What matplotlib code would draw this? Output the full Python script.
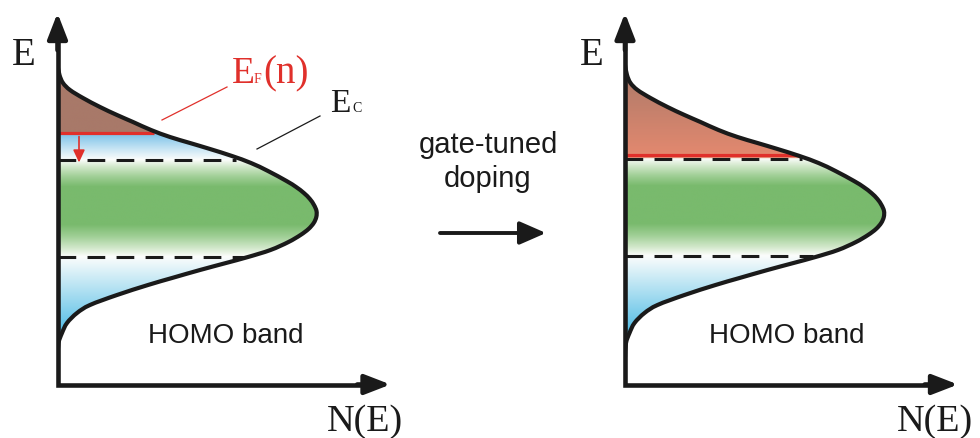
import numpy as np
import matplotlib
matplotlib.use("Agg")
import matplotlib.pyplot as plt
from matplotlib.patches import PathPatch
from matplotlib.path import Path

# ---------------- data (arbitrary units: E upward, N(E) rightward) ----------------
dos_E = [319.5, 309.5, 301.5, 294.5, 286.5, 277.5, 269.5, 262.5, 254.5, 247.5,
         241.5, 235.5, 228.5, 221.5, 213.5, 203.5, 197.5, 191.5, 185.5, 179.5,
         173.5, 167.5, 161.5, 155.5, 149.5, 142.5, 134.5, 127.5, 121.5, 114.5,
         106.5, 99.5, 89.5, 79.5, 71.5, 61.5, 51.5, 41.5, 27.5]
dos_N = [0, 2, 5.5, 12.5, 25.5, 42.5, 59.5, 75.5, 93.5, 112.5,
         132.5, 152.5, 174.5, 193.5, 210.5, 229, 238.6, 246.4, 252.4, 256.5,
         259, 258.8, 256.2, 251, 243, 231, 213, 190.5, 168.5, 142.5,
         114.5, 90.5, 59.5, 32.5, 19.5, 9.5, 4.5, 1, 0]

# levels
left_EF, left_EF_end = 251.5, 96
right_EF, right_EF_end = 229.5, 174
left_dash_E = [225, 128]
left_dash_end = [178, 188]
right_dash_E = [226, 129]
right_dash_end = [177, 188]
arrow_N, arrow_E0, arrow_E1 = 21.5, 248, 222   # red shift arrow (left panel)

# gradient colour stops (E, rgb)
blue = (72, 185, 228)
white = (252, 253, 252)
green = (121, 186, 109)
lblue = (122, 193, 232)
brown = (168, 121, 105)
salmon = (229, 137, 111)
left_stops_E = [0, 48, 128, 136, 148, 160, 198, 208, 218, 225, 251.4, 251.6, 400]
left_stops_C = [blue, blue, white, (212, 233, 205), (160, 207, 150), green, green,
                (160, 207, 150), (210, 232, 203), white, lblue, brown, brown]
right_stops_E = [0, 48, 129, 137, 149, 161, 199, 209, 219, 226.5, 226.6, 320, 400]
right_stops_C = [blue, blue, white, (212, 233, 205), (160, 207, 150), green, green,
                 (160, 207, 150), (210, 232, 203), white, salmon, brown, brown]

XMAX, YMAX = 333, 371.5
W, H = 980, 438
INK = "#1a1a1a"
RED = "#e0302b"

fig = plt.figure(figsize=(W / 100, H / 100), dpi=100)


def smooth_path(xs, ys, close=False):
    """Smooth Bezier path through the listed points (Catmull-Rom handles)."""
    P = np.column_stack([xs, ys]).astype(float)
    Pe = np.vstack([P[0], P, P[-1]])
    verts = [P[0]]
    codes = [Path.MOVETO]
    for i in range(len(P) - 1):
        p0, p1, p2, p3 = Pe[i], Pe[i + 1], Pe[i + 2], Pe[i + 3]
        verts += [p1 + (p2 - p0) / 6.0, p2 - (p3 - p1) / 6.0, p2]
        codes += [Path.CURVE4] * 3
    if close:
        verts.append(P[0])
        codes.append(Path.CLOSEPOLY)
    return Path(np.array(verts), codes)


def panel(x0px, stopsE, stopsC, EF, EF_end, dashE, dash_end, shift_arrow):
    ax = fig.add_axes([x0px / W, (H - 384.5) / H, XMAX / W, YMAX / H])
    ax.set_xlim(0, XMAX)
    ax.set_ylim(0, YMAX)
    ax.axis("off")
    ax.patch.set_alpha(0)

    clip = PathPatch(smooth_path(dos_N, dos_E, close=True), facecolor="none",
                     edgecolor="none")
    ax.add_patch(clip)
    Ey = np.linspace(min(dos_E), max(dos_E), 800)
    sc = np.array(stopsC, dtype=float) / 255.0
    img = np.stack([np.interp(Ey, stopsE, sc[:, k]) for k in range(3)], axis=-1)
    img = img[:, None, :].repeat(2, axis=1)
    im = ax.imshow(img, extent=[0, max(dos_N) + 5, min(dos_E), max(dos_E)],
                   origin="lower", aspect="auto", interpolation="bilinear", zorder=1)
    im.set_clip_path(clip)

    for e, xe in zip(dashE, dash_end):
        ax.plot([0, xe], [e, e], color=INK, lw=2.2, dashes=(5.8, 3.7),
                dash_capstyle="butt", zorder=3)
    ax.plot([0, EF_end], [EF, EF], color=RED, lw=2.3, solid_capstyle="butt", zorder=4)
    ax.add_patch(PathPatch(smooth_path(dos_N, dos_E), facecolor="none",
                           edgecolor=INK, lw=3.0, capstyle="round",
                           joinstyle="round", zorder=5))

    if shift_arrow:
        ax.annotate("", xy=(arrow_N, arrow_E1), xytext=(arrow_N, arrow_E0),
                    arrowprops=dict(arrowstyle="-|>,head_length=0.75,head_width=0.35",
                                    color=RED, lw=1.2, mutation_scale=10,
                                    shrinkA=0, shrinkB=0), zorder=6)

    # axes (L shape + arrow heads)
    ax.plot([0, 0, 0.95], [0.95, 0, 0], transform=ax.transAxes, color=INK, lw=3.3,
            solid_joinstyle="miter", solid_capstyle="butt", clip_on=False, zorder=7)
    for xy, xyt in (((0, 1.0), (0, 0.9)), ((1.0, 0), (0.9, 0))):
        ax.annotate("", xy=xy, xytext=xyt, xycoords="axes fraction",
                    textcoords="axes fraction",
                    arrowprops=dict(arrowstyle="-|>,head_length=1.55,head_width=0.6",
                                    color=INK, lw=3.3, mutation_scale=10,
                                    shrinkA=0, shrinkB=0), zorder=7)
    return ax


panel(57.5, left_stops_E, left_stops_C, left_EF, left_EF_end,
      left_dash_E, left_dash_end, True)
panel(625, right_stops_E, right_stops_C, right_EF, right_EF_end,
      right_dash_E, right_dash_end, False)

# ---------------- overlay for labels (pixel coordinates) ----------------
ov = fig.add_axes([0, 0, 1, 1])
ov.set_xlim(0, W)
ov.set_ylim(H, 0)
ov.axis("off")
ov.patch.set_alpha(0)

serif = "Liberation Serif"
sans = "Liberation Sans"

for x in (12, 580):
    ov.text(x, 65, "E", fontsize=28, family=serif, color=INK, ha="left", va="baseline")
for x in (327, 897):
    ov.text(x, 431, "N(E)", fontsize=27.5, family=serif, color=INK, ha="left",
            va="baseline")
for x in (226, 787):
    ov.text(x, 343, "HOMO band", fontsize=20, family=sans, color=INK, ha="center",
            va="baseline")

ov.text(488, 153, "gate-tuned", fontsize=21, family=sans, color=INK, ha="center",
        va="baseline")
ov.text(488, 187, "doping", fontsize=21, family=sans, color=INK, ha="center",
        va="baseline")
ov.annotate("", xy=(546, 233), xytext=(440, 233), xycoords="data",
            arrowprops=dict(arrowstyle="-|>,head_length=1.6,head_width=0.7",
                            color=INK, lw=2.8, mutation_scale=10, shrinkA=0, shrinkB=0))

# E_F(n) label with leader
ov.text(232, 83, "E", fontsize=27, family=serif, color=RED, ha="left", va="baseline")
ov.text(254, 83, "F", fontsize=10, family=serif, color=RED, ha="left", va="baseline")
ov.text(263, 83, "(n)", fontsize=28, family=serif, color=RED, ha="left", va="baseline")
ov.plot([162, 227], [120, 87], color=RED, lw=0.9)
# E_C label with leader
ov.text(330, 112, "E", fontsize=24, family=serif, color=INK, ha="left", va="baseline")
ov.text(352, 112, "C", fontsize=10, family=serif, color=INK, ha="left", va="baseline")
ov.plot([257, 320], [149, 116], color=INK, lw=0.9)

fig.savefig("out.png", dpi=100)
